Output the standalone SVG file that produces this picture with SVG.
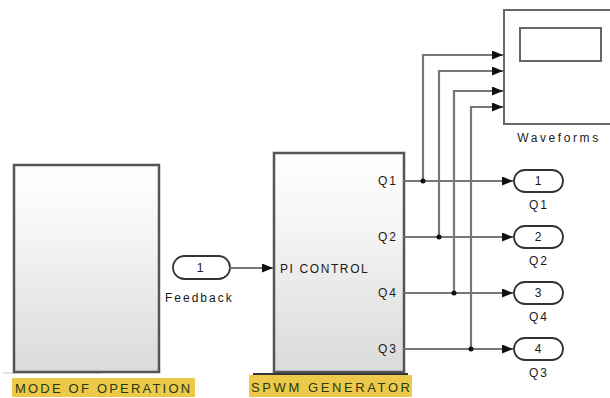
<svg xmlns="http://www.w3.org/2000/svg" width="610" height="398" viewBox="0 0 610 398">
<defs>
<linearGradient id="blk" x1="0" y1="0" x2="0" y2="1">
<stop offset="0" stop-color="#ffffff"/>
<stop offset="0.3" stop-color="#f6f6f6"/>
<stop offset="1" stop-color="#dadada"/>
</linearGradient>
<marker id="arr" markerWidth="11" markerHeight="9" refX="11" refY="4.5" orient="auto" markerUnits="userSpaceOnUse">
<path d="M0,0 L11,4.5 L0,9 Z" fill="#111"/>
</marker>
<style>
.blk{fill:url(#blk);stroke:#555;stroke-width:2.5}
.port{fill:#fff;stroke:#333;stroke-width:1.8}
.w{fill:none;stroke:#777;stroke-width:2.2}
.t{font-family:"Liberation Sans",Arial,sans-serif;font-size:12px;fill:#1a1a1a;letter-spacing:2px}
.lbl{font-family:"Liberation Sans",Arial,sans-serif;font-size:13px;fill:#2a3a10;letter-spacing:2.2px}
.hl{fill:#ecc94b}
.dot{fill:#111}
</style>
</defs>
<rect width="610" height="398" fill="#fff"/>

<g id="mode">
<line x1="3" y1="373" x2="100" y2="373" stroke="#ccc" stroke-width="1"/>
<rect class="blk" x="14" y="165" width="145" height="207"/>
<rect class="hl" x="12" y="378" width="183" height="19"/>
<text class="lbl" x="15" y="393">MODE OF OPERATION</text>
</g>

<g id="feedback">
<rect class="port" x="173" y="256" width="57" height="23" rx="11.5"/>
<text class="t" x="201" y="272" text-anchor="middle">1</text>
<text class="t" x="165" y="302">Feedback</text>
</g>

<g id="spwm">
<line x1="253" y1="374" x2="408" y2="374" stroke="#333" stroke-width="2"/>
<rect class="blk" x="274" y="153" width="130" height="219"/>
<rect class="hl" x="249" y="375" width="163" height="22"/>
<text class="lbl" x="251" y="392" style="letter-spacing:2.6px">SPWM GENERATOR</text>
<text class="t" x="280" y="273" style="letter-spacing:1.6px">PI  CONTROL</text>
<text class="t" x="398" y="185" text-anchor="end">Q1</text>
<text class="t" x="398" y="241" text-anchor="end">Q2</text>
<text class="t" x="398" y="297" text-anchor="end">Q4</text>
<text class="t" x="398" y="353" text-anchor="end">Q3</text>
</g>

<g id="scope">
<rect x="504" y="10" width="110" height="114" fill="#fff" stroke="#666" stroke-width="2"/>
<rect x="520" y="28" width="81" height="33" fill="#fff" stroke="#666" stroke-width="2"/>
<text class="t" x="559" y="142" text-anchor="middle" style="letter-spacing:2.6px">Waveforms</text>
</g>

<g id="out1">
<rect class="port" x="514" y="170" width="49" height="22" rx="11"/>
<text class="t" x="539" y="185" text-anchor="middle">1</text>
<text class="t" x="539" y="209" text-anchor="middle">Q1</text>
</g>
<g id="out2">
<rect class="port" x="514" y="226" width="49" height="22" rx="11"/>
<text class="t" x="539" y="241" text-anchor="middle">2</text>
<text class="t" x="539" y="265" text-anchor="middle">Q2</text>
</g>
<g id="out3">
<rect class="port" x="514" y="282" width="49" height="22" rx="11"/>
<text class="t" x="539" y="297" text-anchor="middle">3</text>
<text class="t" x="539" y="321" text-anchor="middle">Q4</text>
</g>
<g id="out4">
<rect class="port" x="514" y="338" width="49" height="22" rx="11"/>
<text class="t" x="539" y="353" text-anchor="middle">4</text>
<text class="t" x="539" y="377" text-anchor="middle">Q3</text>
</g>

<g id="connectors">
<path class="w" d="M230,268 H273" marker-end="url(#arr)"/>
<path class="w" d="M404,181 H513" marker-end="url(#arr)"/>
<path class="w" d="M404,237 H513" marker-end="url(#arr)"/>
<path class="w" d="M404,293 H513" marker-end="url(#arr)"/>
<path class="w" d="M404,349 H513" marker-end="url(#arr)"/>
<path class="w" d="M423,181 V55 H503" marker-end="url(#arr)"/>
<path class="w" d="M439,237 V71 H503" marker-end="url(#arr)"/>
<path class="w" d="M454,293 V91 H503" marker-end="url(#arr)"/>
<path class="w" d="M471,349 V107 H503" marker-end="url(#arr)"/>
<circle class="dot" cx="423" cy="181" r="2.5"/>
<circle class="dot" cx="439" cy="237" r="2.5"/>
<circle class="dot" cx="454" cy="293" r="2.5"/>
<circle class="dot" cx="471" cy="349" r="2.5"/>
</g>
</svg>
